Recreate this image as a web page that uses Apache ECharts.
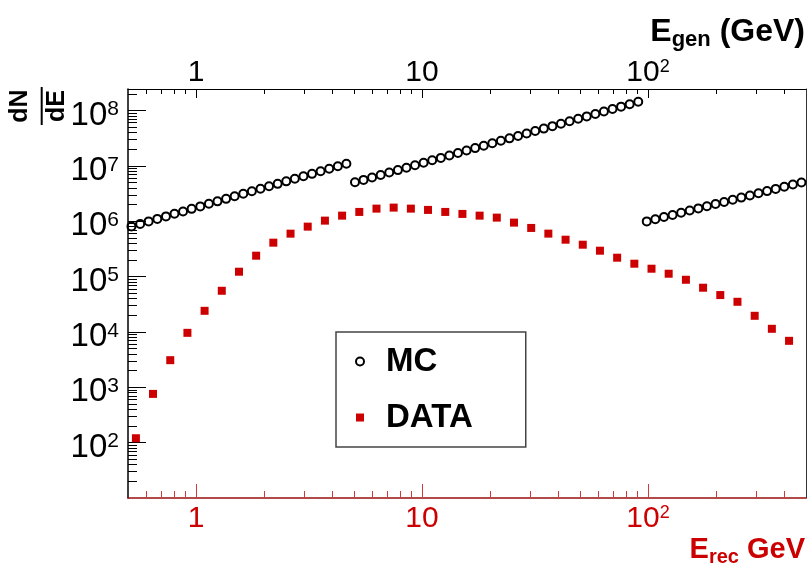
<!DOCTYPE html>
<html><head><meta charset="utf-8">
<script src="https://cdn.jsdelivr.net/npm/echarts@6/dist/echarts.min.js"></script>
<style>html,body{margin:0;padding:0;background:#fff}#c{width:808px;height:570px}</style>
</head><body><div id="c"></div>
<script>
// ---- data ----
const mcX = [0.518,0.566,0.617,0.674,0.736,0.803,0.876,0.956,1.044,1.140,1.244,1.358,1.482,1.618,1.766,1.928,2.104,2.297,2.507,2.736,2.987,3.260,3.558,3.884,4.240,4.627,
5.05,5.51,6.01,6.56,7.16,7.82,8.53,9.31,10.16,11.09,12.11,13.21,14.42,15.74,17.18,18.75,20.46,22.33,24.37,26.60,29.03,31.68,34.58,37.74,41.19,44.96,49.07,53.55,58.45,63.79,69.62,75.98,82.93,90.51,
98.7,107.7,117.6,128.4,140.1,152.9,166.9,182.2,198.9,217.1,237.0,258.6,282.3,308.1,336.3,367.1,400.7,437.4,477.4];
const mcY = [8.05e5,8.93e5,9.91e5,1.10e6,1.22e6,1.36e6,1.50e6,1.67e6,1.85e6,2.06e6,2.28e6,2.53e6,2.81e6,3.12e6,3.46e6,3.84e6,4.26e6,4.72e6,5.24e6,5.82e6,6.46e6,7.16e6,7.95e6,8.83e6,9.79e6,1.087e7,
5.04e6,5.57e6,6.17e6,6.83e6,7.56e6,8.37e6,9.26e6,1.025e7,1.135e7,1.256e7,1.390e7,1.539e7,1.704e7,1.886e7,2.087e7,2.310e7,2.557e7,2.830e7,3.132e7,3.467e7,3.837e7,4.247e7,4.701e7,5.203e7,5.759e7,6.374e7,7.055e7,7.808e7,8.642e7,9.566e7,1.059e8,1.172e8,1.297e8,1.436e8,
9.91e5,1.084e6,1.186e6,1.297e6,1.419e6,1.555e6,1.702e6,1.862e6,2.037e6,2.228e6,2.438e6,2.667e6,2.917e6,3.191e6,3.491e6,3.828e6,4.188e6,4.581e6,5.012e6];
const dataX = [0.542,0.645,0.769,0.916,1.091,1.300,1.549,1.845,2.198,2.619,3.120,3.718,4.429,5.277,6.287,7.489,8.925,10.63,12.67,15.09,17.98,21.42,25.52,30.41,36.22,43.17,51.43,61.27,73.00,86.98,103.6,123.4,147.1,175.2,208.8,248.7,296.4,353.1,420.7];
const dataY = [120,759,3085,9620,24040,55340,1.222e5,2.38e5,4.09e5,5.95e5,7.97e5,1.023e6,1.259e6,1.469e6,1.686e6,1.758e6,1.686e6,1.597e6,1.469e6,1.352e6,1.259e6,1.159e6,9.42e5,7.55e5,5.96e5,4.63e5,3.76e5,2.93e5,2.19e5,1.705e5,1.385e5,1.124e5,8.75e4,6.28e4,4.63e4,3.50e4,1.954e4,1.138e4,6.90e3];

// ---- ticks ----
const xMajorTicks = [1, 10, 100];
const xMinorTicks = [0.6,0.7,0.8,0.9,2,3,4,5,6,7,8,9,20,30,40,50,60,70,80,90,200,300,400];
const yMajorTicks = [1e2,1e3,1e4,1e5,1e6,1e7,1e8];
const yMinorTicks = [20,30,40,50,60,70,80,90,200,300,400,500,600,700,800,900,
2e3,3e3,4e3,5e3,6e3,7e3,8e3,9e3,2e4,3e4,4e4,5e4,6e4,7e4,8e4,9e4,
2e5,3e5,4e5,5e5,6e5,7e5,8e5,9e5,2e6,3e6,4e6,5e6,6e6,7e6,8e6,9e6,
2e7,3e7,4e7,5e7,6e7,7e7,8e7,9e7,2e8];
const xRange = [0.5, 500];
const yRange = [10, 2.44e8];

const FONT = '"Liberation Sans", Arial, Helvetica, sans-serif';
const RED = '#cc0000';

function powLabel(v) {
  const e = Math.round(Math.log10(v));
  if (e === 0) return '{b|1}';
  if (e === 1) return '{b|10}';
  return '{b|10}{s|' + e + '}';
}
function rich(color, bs, ss, pad) {
  return {
    b: {fontSize: bs, lineHeight: bs, color: color, fontFamily: FONT, verticalAlign: 'top', padding: [pad,0,0,0]},
    s: {fontSize: ss, lineHeight: ss, color: color, fontFamily: FONT, verticalAlign: 'top', padding: [pad,0,0,0]}
  };
}
function titleRich(color, a, s, q) {
  return {
    a: {fontSize: a, lineHeight: a, fontWeight: 'bold', color: color, fontFamily: FONT, verticalAlign: 'top'},
    s: {fontSize: s, lineHeight: s, fontWeight: 'bold', color: color, fontFamily: FONT, verticalAlign: 'top', padding: [q,0,0,0]}
  };
}
const logBase = {type: 'log', logBase: 10, splitLine: {show: false}, minorTick: {show: false}, minorSplitLine: {show: false}};

const chart = echarts.init(document.getElementById('c'), null, {renderer: 'canvas'});
chart.setOption({
  backgroundColor: '#fff',
  animation: false,
  grid: {left: 128, right: 2, top: 89, bottom: 72, containLabel: false, outerBoundsMode: 'none'},
  xAxis: [
    Object.assign({}, logBase, {
      min: xRange[0], max: xRange[1], position: 'bottom',
      axisLine: {show: true, lineStyle: {color: '#9a0f0f', width: 1.5}},
      axisTick: {show: true, inside: true, length: 14, customValues: xMajorTicks, lineStyle: {color: '#d03a3a', width: 1}},
      axisLabel: {show: true, customValues: xMajorTicks, formatter: powLabel, margin: 6, rich: rich(RED, 30, 18, 0)},
      name: '{a|E}{s|rec}{a| GeV}', nameLocation: 'end', nameGap: -1, nameMoveOverlap: false,
      nameTextStyle: {align: 'right', verticalAlign: 'top', padding: [37,0,0,0], rich: titleRich(RED, 29, 20, 12)}
    }),
    Object.assign({}, logBase, {
      min: xRange[0], max: xRange[1], position: 'bottom',
      axisLine: {show: false},
      axisTick: {show: true, inside: true, length: 7, customValues: xMinorTicks, lineStyle: {color: '#d03a3a', width: 1}},
      axisLabel: {show: false}
    }),
    Object.assign({}, logBase, {
      min: xRange[0], max: xRange[1], position: 'top',
      axisLine: {show: true, lineStyle: {color: '#000', width: 1}},
      axisTick: {show: true, inside: true, length: 9, customValues: xMajorTicks, lineStyle: {color: '#000', width: 1}},
      axisLabel: {show: true, customValues: xMajorTicks, formatter: powLabel, margin: 1, rich: rich('#000', 30, 18, 0)},
      name: '{a|E}{s|gen}{a| (GeV)}', nameLocation: 'end', nameGap: -1, nameMoveOverlap: false,
      nameTextStyle: {align: 'right', verticalAlign: 'bottom', padding: [0,0,41,0], rich: titleRich('#000', 32, 22, 13)}
    }),
    Object.assign({}, logBase, {
      min: xRange[0], max: xRange[1], position: 'top',
      axisLine: {show: false},
      axisTick: {show: true, inside: true, length: 5, customValues: xMinorTicks, lineStyle: {color: '#000', width: 1}},
      axisLabel: {show: false}
    })
  ],
  yAxis: [
    Object.assign({}, logBase, {
      min: yRange[0], max: yRange[1], position: 'left',
      axisLine: {show: true, lineStyle: {color: '#000', width: 1.5}},
      axisTick: {show: true, inside: true, length: 18, customValues: yMajorTicks, lineStyle: {color: '#000', width: 1}},
      axisLabel: {show: true, customValues: yMajorTicks, formatter: powLabel, margin: 9, rich: rich('#000', 33, 21, 5)}
    }),
    Object.assign({}, logBase, {
      min: yRange[0], max: yRange[1], position: 'left',
      axisLine: {show: false},
      axisTick: {show: true, inside: true, length: 9, customValues: yMinorTicks, lineStyle: {color: '#000', width: 1}},
      axisLabel: {show: false}
    }),
    Object.assign({}, logBase, {
      min: yRange[0], max: yRange[1], position: 'right',
      axisLine: {show: true, lineStyle: {color: '#333', width: 1}},
      axisTick: {show: false}, axisLabel: {show: false}
    })
  ],
  legend: {
    orient: 'vertical', left: 336, top: 332,
    itemWidth: 8, itemHeight: 8, itemGap: 23,
    padding: [13, 53, 13, 19],
    borderColor: '#444', borderWidth: 1.5, backgroundColor: '#fff',
    textStyle: {fontSize: 33, fontWeight: 'bold', color: '#000', fontFamily: FONT, padding: [0,0,0,17]},
    data: [
      {name: 'MC', icon: 'circle', itemStyle: {color: 'rgba(0,0,0,0)', borderColor: '#000', borderWidth: 2}},
      {name: 'DATA', icon: 'rect', itemStyle: {color: RED, borderWidth: 0}}
    ]
  },
  graphic: [{
    type: 'group', x: 41.7, y: 106, rotation: Math.PI / 2,
    children: [
      {type: 'text', style: {text: 'dN', x: 0, y: -21.5, align: 'center', verticalAlign: 'middle', font: 'bold 25px ' + FONT, fill: '#000'}},
      {type: 'line', shape: {x1: -19, y1: 0, x2: 19, y2: 0}, style: {stroke: '#000', lineWidth: 2}},
      {type: 'text', style: {text: 'dE', x: 0, y: 15, align: 'center', verticalAlign: 'middle', font: 'bold 25px ' + FONT, fill: '#000'}}
    ]
  }],
  series: [
    {
      name: 'MC', type: 'scatter', xAxisIndex: 0, yAxisIndex: 0,
      data: mcX.map((x, i) => [x, mcY[i]]),
      symbol: 'circle', symbolSize: 8,
      itemStyle: {color: 'rgba(0,0,0,0)', borderColor: '#000', borderWidth: 2, opacity: 1},
      emphasis: {disabled: true}, z: 3
    },
    {
      name: 'DATA', type: 'scatter', xAxisIndex: 0, yAxisIndex: 0,
      data: dataX.map((x, i) => [x, dataY[i]]),
      symbol: 'rect', symbolSize: 8,
      itemStyle: {color: RED, opacity: 1},
      emphasis: {disabled: true}, z: 2
    }
  ]
});
</script></body></html>
